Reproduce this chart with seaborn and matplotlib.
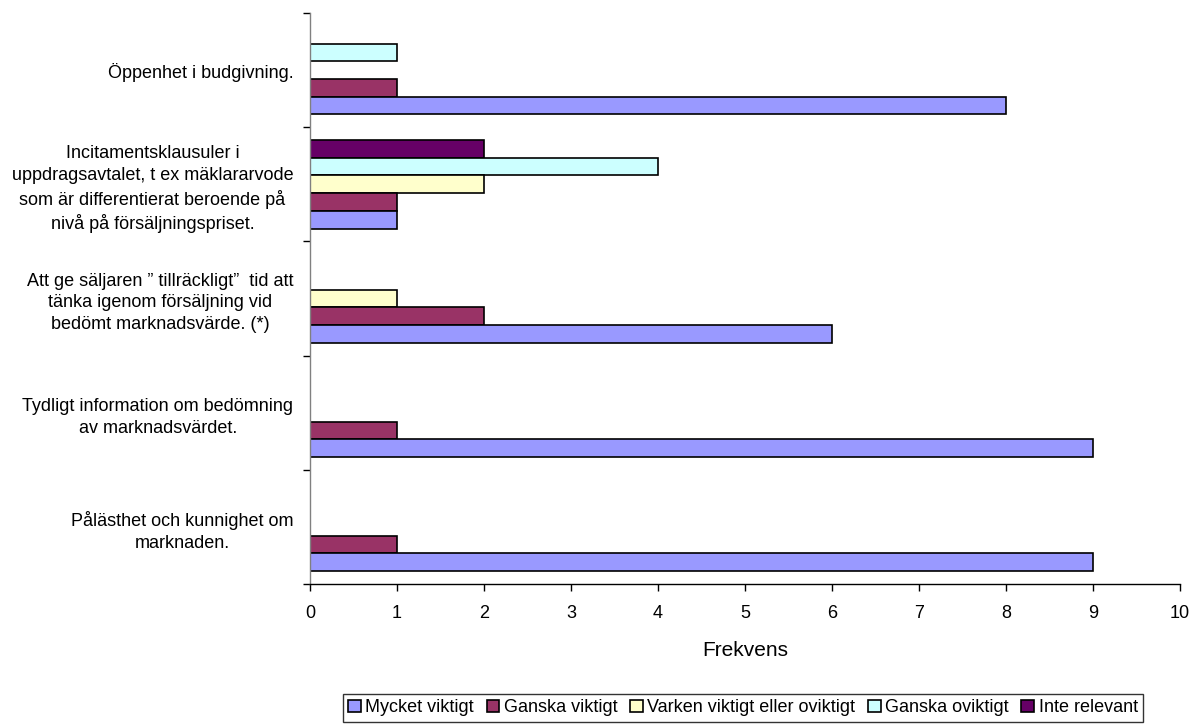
import matplotlib
matplotlib.use("Agg")
import matplotlib.pyplot as plt
import seaborn as sns
import pandas as pd
from matplotlib.patches import Patch

categories = [
    "Öppenhet i budgivning.",
    "Incitamentsklausuler i\nuppdragsavtalet, t ex mäklararvode\nsom är differentierat beroende på\nnivå på försäljningspriset.",
    "Att ge säljaren ” tillräckligt”  tid att\ntänka igenom försäljning vid\nbedömt marknadsvärde. (*)",
    "Tydligt information om bedömning\nav marknadsvärdet.",
    "Pålästhet och kunnighet om\nmarknaden.",
]
series = ["Mycket viktigt", "Ganska viktigt", "Varken viktigt eller oviktigt",
          "Ganska oviktigt", "Inte relevant"]
mycket_viktigt = [8, 1, 6, 9, 9]
ganska_viktigt = [1, 1, 2, 1, 1]
varken = [0, 2, 1, 0, 0]
ganska_oviktigt = [1, 4, 0, 0, 0]
inte_relevant = [0, 2, 0, 0, 0]
colors = ["#9999FF", "#993366", "#FFFFCC", "#CCFFFF", "#660066"]
x_ticks = list(range(0, 11))

values = [mycket_viktigt, ganska_viktigt, varken, ganska_oviktigt, inte_relevant]
rows = []
for s, vals in zip(series, values):
    for c, v in zip(categories, vals):
        rows.append({"Kategori": c, "Serie": s, "Frekvens": v})
df = pd.DataFrame(rows)

sns.set_style("white")
plt.rcParams["font.family"] = ["Liberation Sans", "DejaVu Sans"]
plt.rcParams["text.color"] = "black"
plt.rcParams["axes.labelcolor"] = "black"
plt.rcParams["xtick.color"] = "black"
plt.rcParams["ytick.color"] = "black"

fig = plt.figure(figsize=(11.92, 7.24), dpi=100)
ax = fig.add_axes([310 / 1192, 1 - 584 / 724, 870 / 1192, 571 / 724])

hue_order = series[::-1]
palette = dict(zip(series, colors))
sns.barplot(data=df, y="Kategori", x="Frekvens", hue="Serie", order=categories,
            hue_order=hue_order, palette=palette, orient="h", width=0.775,
            edgecolor="black", linewidth=1.2, saturation=1, ax=ax, legend=False,
            errorbar=None)

for p in ax.patches:
    if p.get_width() == 0:
        p.set_visible(False)

ax.set_xlim(0, 10)
ax.set_ylim(len(categories) - 0.5, -0.5)
ax.set_xticks(x_ticks)
ax.set_xticklabels([str(t) for t in x_ticks], fontsize=13)
ax.set_xlabel("Frekvens", fontsize=15, labelpad=14)
ax.set_ylabel("")

ax.set_yticks(range(len(categories)))
ax.set_yticklabels(categories, fontsize=13, linespacing=1.38)
for lbl in ax.get_yticklabels():
    lbl.set_multialignment("center")
ax.set_yticks([i - 0.5 for i in range(len(categories) + 1)], minor=True)
ax.tick_params(axis="y", which="major", length=0, pad=12)
ax.tick_params(axis="y", which="minor", length=5, width=1, color="black", direction="out", left=True)
ax.tick_params(axis="x", which="major", length=5, width=1, color="black", direction="out",
               bottom=True, pad=10)

for side in ["top", "right"]:
    ax.spines[side].set_visible(False)
ax.spines["left"].set_color("#808080")
ax.spines["left"].set_linewidth(1)
ax.spines["bottom"].set_color("black")
ax.spines["bottom"].set_linewidth(1)
ax.grid(False)

handles = [Patch(facecolor=c, edgecolor="black", linewidth=1.2, label=s)
           for s, c in zip(series, colors)]
leg = fig.legend(handles=handles, loc="upper center", bbox_to_anchor=(743 / 1192, 1 - 694 / 724),
                 ncol=5, frameon=True, fancybox=False, edgecolor="black", fontsize=13,
                 handlelength=0.7, handleheight=0.7, handletextpad=0.25,
                 columnspacing=0.7, borderpad=0.3, borderaxespad=0)
leg.get_frame().set_linewidth(1)

fig.savefig("out.png", dpi=100)
